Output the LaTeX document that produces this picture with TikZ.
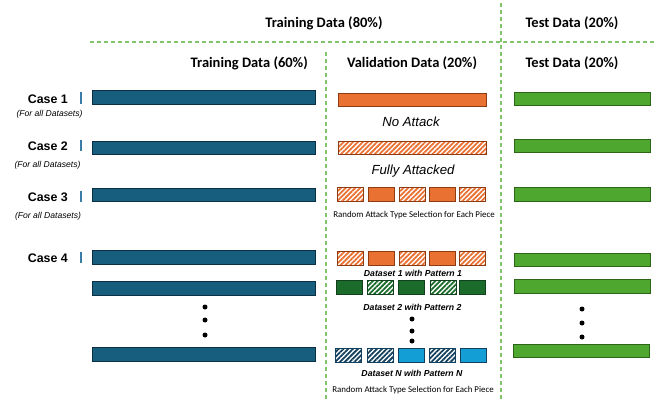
\documentclass[tikz,border=0pt]{standalone}
\usepackage{fontspec}
\setmainfont{Liberation Sans}
\newfontfamily\calib{Carlito}
\usetikzlibrary{patterns.meta}
\definecolor{tblue}{HTML}{175E7E}
\definecolor{tblueb}{HTML}{0B2F45}
\definecolor{orng}{HTML}{E97132}
\definecolor{orngb}{HTML}{8E3B12}
\definecolor{grn}{HTML}{4EA72E}
\definecolor{grnb}{HTML}{2C641A}
\definecolor{dgrn}{HTML}{1B6B2B}
\definecolor{dgrnb}{HTML}{123F1C}
\definecolor{cyn}{HTML}{149ED6}
\definecolor{cynb}{HTML}{12405E}
\definecolor{dashg}{HTML}{82C46C}
\definecolor{tick}{HTML}{3A7CA5}
\tikzset{
  x=1pt, y=-1pt,
  box/.style={draw, line width=0.9pt, inner sep=0pt, minimum height=13.5pt},
  trainbar/.style={box, fill=tblue, draw=tblueb, minimum width=223pt},
  testbar/.style={box, fill=grn, draw=grnb, minimum width=136pt},
  orbar/.style={box, fill=orng, draw=orngb, minimum width=148pt},
  hatchpat/.style={pattern={Lines[angle=45,distance=3.4pt,line width=1.8pt]}, pattern color=#1},
  orhatchbar/.style={box, draw=orngb, hatchpat=orng, minimum width=148pt},
  piece/.style={box, minimum width=26pt, minimum height=14pt},
  orsolid/.style={piece, fill=orng, draw=orngb},
  orhatch/.style={piece, draw=orngb, hatchpat=orng},
  gsolid/.style={piece, fill=dgrn, draw=dgrnb},
  ghatch/.style={piece, draw=dgrnb, hatchpat=dgrn},
  csolid/.style={piece, fill=cyn, draw=cynb},
  chatch/.style={piece, draw=cynb, hatchpat=cynb},
  sep/.style={draw=dashg, line width=1.1pt, dash pattern=on 4pt off 3pt},
  head/.style={font=\calib\bfseries\fontsize{14.5}{17}\selectfont, inner sep=0pt},
  caselab/.style={font=\bfseries\fontsize{12.4}{14}\selectfont, inner sep=0pt, anchor=east},
  forall/.style={font=\itshape\fontsize{8.6}{10}\selectfont, inner sep=0pt},
  attlab/.style={font=\itshape\fontsize{13.2}{15}\selectfont, inner sep=0pt},
  dslab/.style={font=\bfseries\itshape\fontsize{8.7}{10}\selectfont, inner sep=0pt},
  rndlab/.style={font=\calib\fontsize{8.9}{10}\selectfont, inner sep=0pt},
  tickmark/.style={draw=tick, line width=1.2pt},
  vdot/.style={circle, fill=black, inner sep=0pt, minimum size=5pt},
}
\begin{document}
\begin{tikzpicture}
\useasboundingbox (0,0) rectangle (656,399);
% separators
\draw[sep] (90,42) -- (656,42);
\draw[sep] (326,52) -- (326,399);
\draw[sep] (501,3) -- (501,399);
% headers
\node[head] (h80) at (324,23) {Training Data (80\%)};
\node[head] (htest1) at (572,23) {Test Data (20\%)};
\node[head, anchor=east] (h60) at (308,63) {Training Data (60\%)};
\node[head] (hval) at (412,63) {Validation Data (20\%)};
\node[head] (htest2) at (572,63) {Test Data (20\%)};
% case labels
\node[caselab] (c1) at (68,99) {Case 1};
\node[caselab] (c2) at (68,146) {Case 2};
\node[caselab] (c3) at (68,197) {Case 3};
\node[caselab] (c4) at (68,258) {Case 4};
\node[forall] (f1) at (49.5,114) {(For all Datasets)};
\node[forall] (f2) at (47.5,165) {(For all Datasets)};
\node[forall] (f3) at (48,216) {(For all Datasets)};
\draw[tickmark] (81,92) -- (81,104);
\draw[tickmark] (81,140) -- (81,151);
\draw[tickmark] (81,191) -- (81,202);
\draw[tickmark] (81,252) -- (81,263);
% training bars
\node[trainbar] (t1) at (203.5,97.5) {};
\node[trainbar] (t2) at (203.5,148) {};
\node[trainbar] (t3) at (203.5,195) {};
\node[trainbar] (t4) at (203.5,257.5) {};
\node[trainbar] (t5) at (203.5,288.5) {};
\node[trainbar] (t6) at (203.5,354.5) {};
% test bars
\node[testbar] (g1) at (582,99) {};
\node[testbar] (g2) at (582,146) {};
\node[testbar] (g3) at (582,194.5) {};
\node[testbar] (g4) at (582,260) {};
\node[testbar] (g5) at (582,286.5) {};
\node[testbar] (g6) at (581,351) {};
% validation
\node[orbar] (v1) at (412,100) {};
\node[attlab] (na) at (411,122) {No Attack};
\node[orhatchbar] (v2) at (412,148) {};
\node[attlab] (fa) at (413,171) {Fully Attacked};
% case 3 pieces
\node[orhatch] (p31) at (350,194.5) {};
\node[orsolid] (p32) at (381.5,194.5) {};
\node[orhatch] (p33) at (412,194.5) {};
\node[orsolid] (p34) at (442.5,194.5) {};
\node[orhatch] (p35) at (472.5,194.5) {};
\node[rndlab] (r1) at (414,215) {Random Attack Type Selection for Each Piece};
% case 4 pieces
\node[orhatch] (p41) at (350,258) {};
\node[orsolid] (p42) at (381.5,258) {};
\node[orhatch] (p43) at (412,258) {};
\node[orsolid] (p44) at (442.5,258) {};
\node[orhatch] (p45) at (472.5,258) {};
\node[dslab] (d1) at (413,273) {Dataset 1 with Pattern 1};
\node[gsolid] (q1) at (349.5,287.5) {};
\node[ghatch] (q2) at (380,287.5) {};
\node[gsolid] (q3) at (411.5,287.5) {};
\node[ghatch] (q4) at (443,287.5) {};
\node[gsolid] (q5) at (472.5,287.5) {};
\node[dslab] (d2) at (412.5,307) {Dataset 2 with Pattern 2};
\node[chatch] (s1) at (348.5,355) {};
\node[chatch] (s2) at (380,355) {};
\node[csolid] (s3) at (411,355) {};
\node[chatch] (s4) at (442.5,355) {};
\node[csolid] (s5) at (473,355) {};
\node[dslab] (dn) at (412,373) {Dataset N with Pattern N};
\node[rndlab] (r2) at (413,390) {Random Attack Type Selection for Each Piece};
% dots
\node[vdot] (l1) at (205,307) {};
\node[vdot] (l2) at (205,320) {};
\node[vdot] (l3) at (205,335) {};
\node[vdot] (m1) at (412,319) {};
\node[vdot] (m2) at (412,331) {};
\node[vdot] (m3) at (412,341) {};
\node[vdot] (k1) at (582,309) {};
\node[vdot] (k2) at (582,323) {};
\node[vdot] (k3) at (582,337) {};
\end{tikzpicture}
\end{document}
